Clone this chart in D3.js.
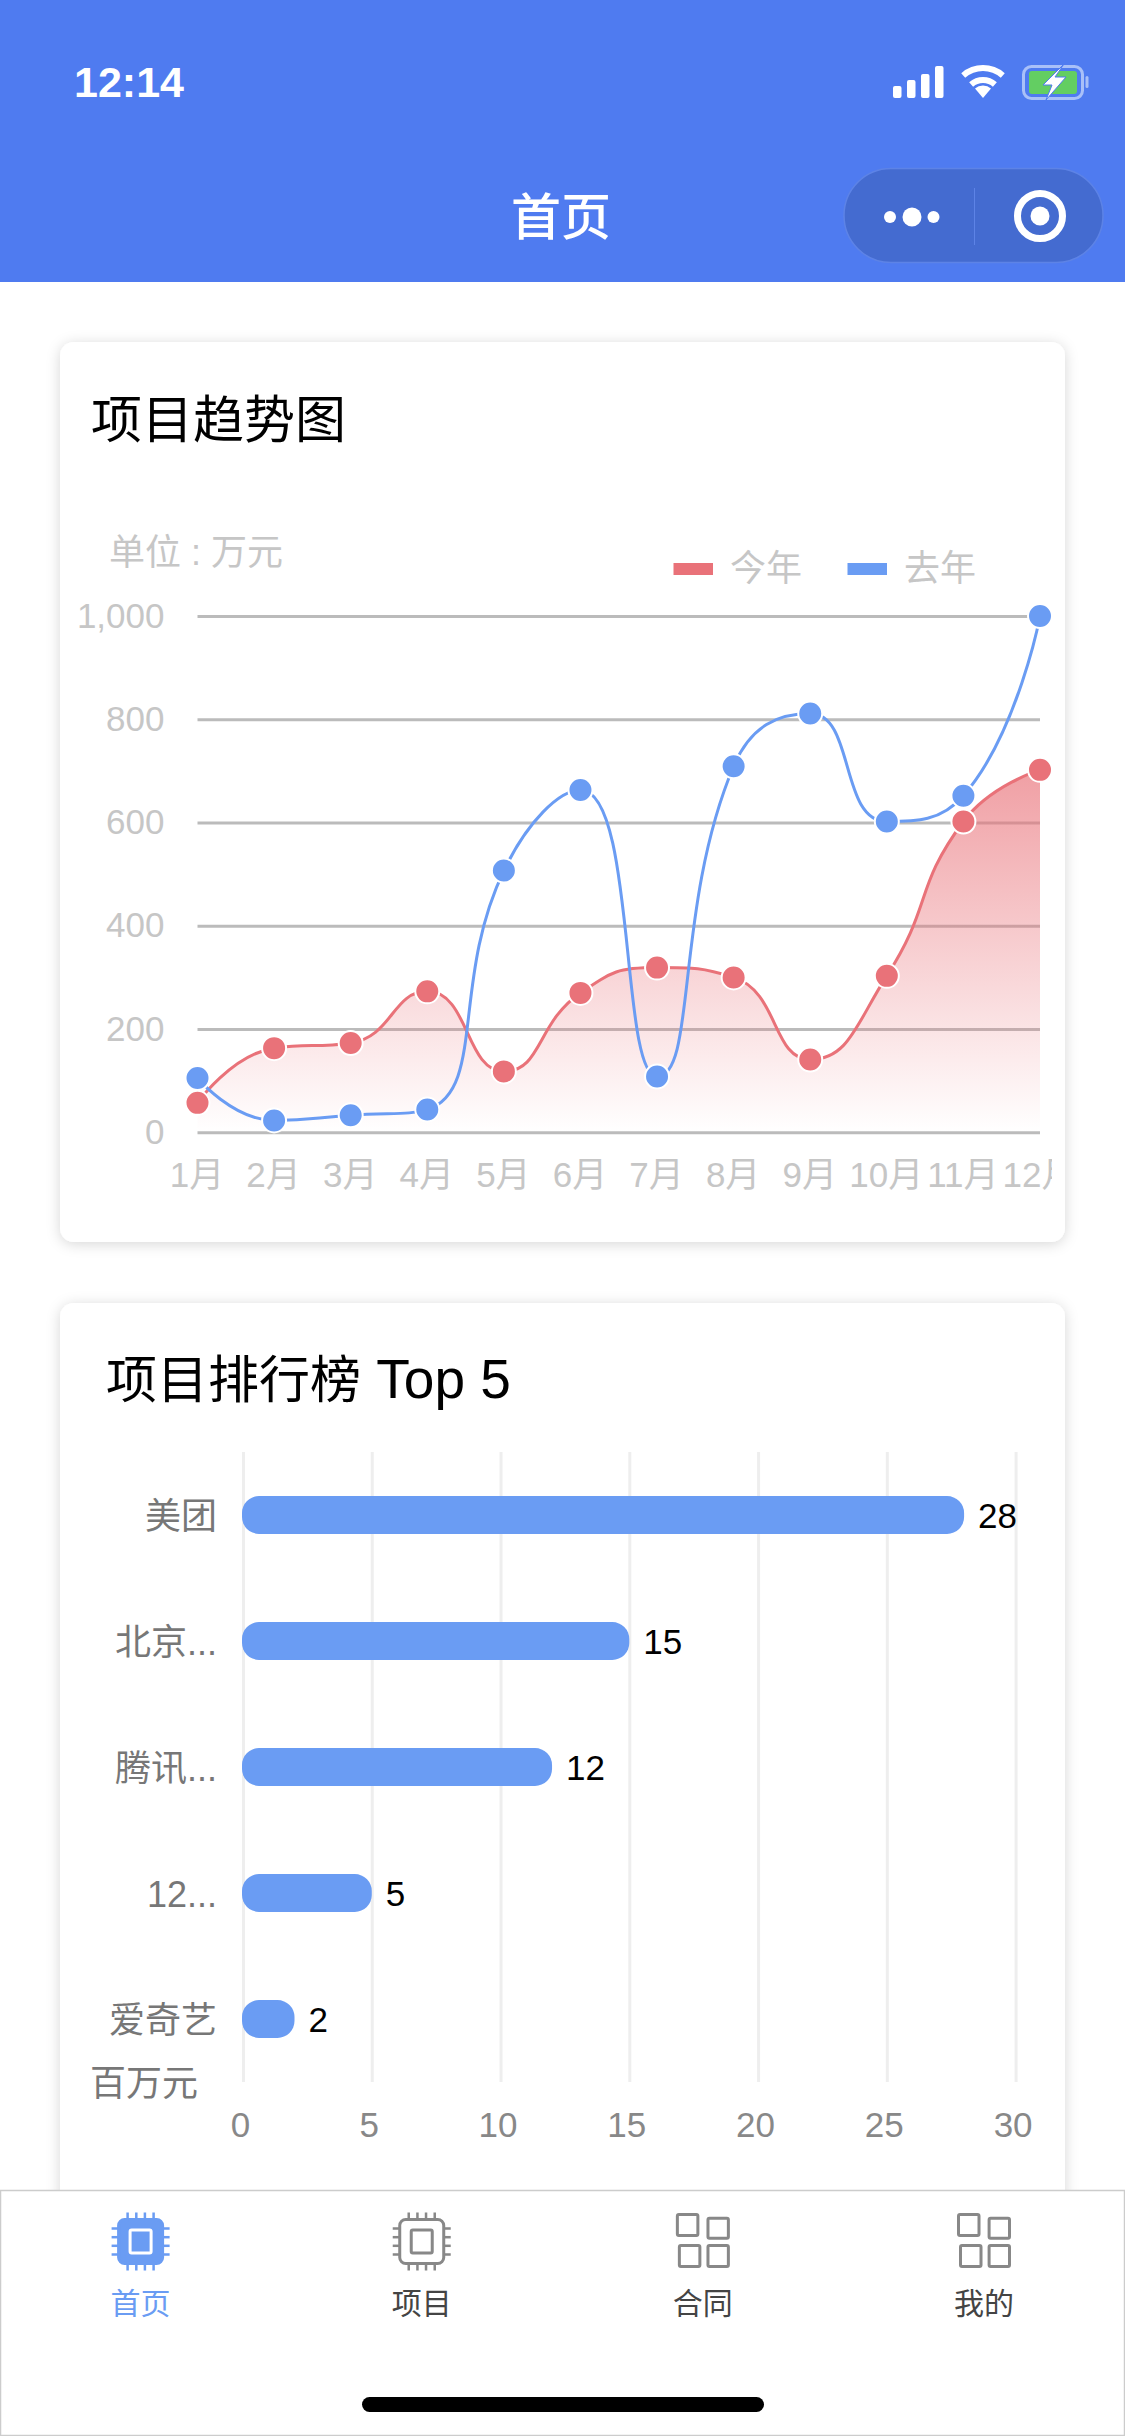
<!DOCTYPE html>
<html>
<head>
<meta charset="utf-8">
<script src="https://cdn.jsdelivr.net/npm/d3@7/dist/d3.min.js"></script>
<style>
  html, body { margin: 0; padding: 0; background: #fff; }
  svg { display: block; }
  text { font-family: "Liberation Sans", "Noto Sans CJK SC", sans-serif; }
</style>
</head>
<body>
<svg id="page" width="1125" height="2436"></svg>
<script>
// trend chart data
const months = ['1月', '2月', '3月', '4月', '5月', '6月', '7月', '8月', '9月', '10月', '11月', '12月'];
const thisYear = [57, 163, 173, 273, 118, 270, 319, 300, 141, 303, 602, 702];
const lastYear = [105, 23, 33, 44, 507, 663, 108, 709, 811, 602, 652, 1000];
const trendTicks = [0, 200, 400, 600, 800, 1000];

// ranking chart data
const companies = ['美团', '北京...', '腾讯...', '12...', '爱奇艺'];
const projects = [28, 15, 12, 5, 2];
const rankTicks = [0, 5, 10, 15, 20, 25, 30];

const tabs = ['首页', '项目', '合同', '我的'];

const BLUE = '#6a9cf3';
const RED = '#e97279';
const HEADER = '#4f7bf0';

const svg = d3.select('#page');
const defs = svg.append('defs');

const shadow = defs.append('filter').attr('id', 'cardShadow')
  .attr('x', '-5%').attr('y', '-5%').attr('width', '110%').attr('height', '110%');
shadow.append('feDropShadow').attr('dx', 0).attr('dy', 2).attr('stdDeviation', 7)
  .attr('flood-color', '#000').attr('flood-opacity', 0.16);

/**
 * Smooth curve with clamped control points, usable by d3.line and d3.area
 */
function clampedCurve(context) {
  let pts = [], line = NaN;
  const smooth = 0.5;
  const clamp = (v, a, b) => Math.max(Math.min(a, b), Math.min(Math.max(a, b), v));
  return {
    areaStart() { line = 0; },
    areaEnd() { line = NaN; },
    lineStart() { pts = []; },
    point(x, y) { pts.push([+x, +y]); },
    lineEnd() {
      const n = pts.length;
      if (line === 1) context.lineTo(pts[0][0], pts[0][1]);
      else context.moveTo(pts[0][0], pts[0][1]);
      const cps = pts.map((p, i) => {
        const prev = pts[i - 1], next = pts[i + 1];
        if (!prev || !next) return { a: p, b: p };
        const vx = next[0] - prev[0], vy = next[1] - prev[1];
        const lp = Math.hypot(p[0] - prev[0], p[1] - prev[1]);
        const ln = Math.hypot(next[0] - p[0], next[1] - p[1]);
        if (lp === 0 || ln === 0) return { a: p, b: p };
        const r = ln / (ln + lp);
        let bx = clamp(p[0] + vx * smooth * r, p[0], next[0]);
        let by = clamp(p[1] + vy * smooth * r, p[1], next[1]);
        let ax = clamp(p[0] - (bx - p[0]) * lp / ln, p[0], prev[0]);
        let ay = clamp(p[1] - (by - p[1]) * lp / ln, p[1], prev[1]);
        bx = p[0] - (ax - p[0]) * ln / lp;
        by = p[1] - (ay - p[1]) * ln / lp;
        return { a: [ax, ay], b: [bx, by] };
      });
      for (let i = 1; i < n; i++) {
        context.bezierCurveTo(cps[i - 1].b[0], cps[i - 1].b[1], cps[i].a[0], cps[i].a[1], pts[i][0], pts[i][1]);
      }
      if (line === 1) context.closePath();
      line = 1 - line;
    }
  };
}

/**
 * Cards
 */
function drawCards() {
  svg.append('rect').attr('x', 60).attr('y', 342).attr('width', 1005).attr('height', 900)
    .attr('rx', 14).attr('fill', '#fff').attr('filter', 'url(#cardShadow)');
  svg.append('rect').attr('x', 60).attr('y', 1303).attr('width', 1005).attr('height', 960)
    .attr('rx', 14).attr('fill', '#fff').attr('filter', 'url(#cardShadow)');

  svg.append('text').attr('x', 91).attr('y', 438).attr('font-size', 51).attr('fill', '#000').text('项目趋势图');
  const title = svg.append('text').attr('x', 106).attr('y', 1398).attr('font-size', 51).attr('fill', '#000');
  title.append('tspan').text('项目排行榜');
  title.append('tspan').attr('font-size', 55).text(' Top 5');
}

/**
 * Line chart, this year against last year
 */
function drawTrend() {
  const x = d3.scalePoint().domain(months).range([197.5, 1040]);
  const y = d3.scaleLinear().domain([0, 1000]).range([1132.3, 616]);

  const grad = defs.append('linearGradient').attr('id', 'redFill')
    .attr('gradientUnits', 'userSpaceOnUse')
    .attr('x1', 0).attr('x2', 0).attr('y1', y(d3.max(thisYear))).attr('y2', y(0));
  grad.append('stop').attr('offset', 0).attr('stop-color', RED).attr('stop-opacity', 0.68);
  grad.append('stop').attr('offset', 1).attr('stop-color', RED).attr('stop-opacity', 0);

  defs.append('clipPath').attr('id', 'trendClip').append('rect')
    .attr('x', 60).attr('y', 500).attr('width', 992).attr('height', 720);

  const g = svg.append('g').attr('clip-path', 'url(#trendClip)');

  const yAxis = g.append('g').attr('transform', `translate(${x(months[0])},0)`)
    .call(d3.axisLeft(y).tickValues(trendTicks).tickFormat(d3.format(','))
      .tickSize(-(x(months[11]) - x(months[0]))).tickPadding(33));
  yAxis.select('.domain').remove();
  yAxis.selectAll('line').attr('stroke', '#bbb').attr('stroke-width', 3);
  yAxis.selectAll('text').attr('font-size', 35).attr('fill', '#c6c6c6');

  const xAxis = g.append('g').attr('transform', `translate(0,${y(0)})`)
    .call(d3.axisBottom(x).tickSize(0).tickPadding(30));
  xAxis.select('.domain').remove();
  xAxis.selectAll('text').attr('font-size', 35).attr('fill', '#c6c6c6').attr('dx', -1);

  const area = d3.area().x((d, i) => x(months[i])).y0(y(0)).y1(d => y(d)).curve(clampedCurve);
  const line = d3.line().x((d, i) => x(months[i])).y(d => y(d)).curve(clampedCurve);

  g.append('path').datum(thisYear).attr('d', area).attr('fill', 'url(#redFill)');

  [[thisYear, RED], [lastYear, BLUE]].forEach(([values, color]) => {
    g.append('path').datum(values).attr('d', line)
      .attr('fill', 'none').attr('stroke', color).attr('stroke-width', 3);
    g.selectAll(null).data(values).enter().append('circle')
      .attr('cx', (d, i) => x(months[i])).attr('cy', d => y(d)).attr('r', 12)
      .attr('fill', color).attr('stroke', '#fff').attr('stroke-width', 2);
  });

  // legend and unit
  const labels = svg.append('g').attr('font-size', 36).attr('fill', '#c6c6c6');
  labels.append('text').attr('x', 109).attr('y', 565).text('单位 : 万元');
  labels.append('text').attr('x', 730).attr('y', 581).text('今年');
  labels.append('text').attr('x', 904).attr('y', 581).text('去年');
  svg.append('rect').attr('x', 673.5).attr('y', 563).attr('width', 39.5).attr('height', 12).attr('fill', RED);
  svg.append('rect').attr('x', 847.5).attr('y', 563).attr('width', 39.5).attr('height', 12).attr('fill', BLUE);
}

/**
 * Horizontal bars, top 5
 */
function drawRanking() {
  const x = d3.scaleLinear().domain([0, 30]).range([243, 1015.6]);
  const y = d3.scaleBand().domain(companies).range([1452, 2082]).paddingInner(0.7).paddingOuter(0.35);

  const xAxis = svg.append('g').attr('transform', `translate(0,${y.range()[1]})`)
    .call(d3.axisBottom(x).tickValues(rankTicks).tickSize(-630).tickPadding(30));
  xAxis.select('.domain').remove();
  xAxis.selectAll('line').attr('stroke', '#eee').attr('stroke-width', 3);
  xAxis.selectAll('text').attr('font-size', 35).attr('fill', '#888').attr('dx', -3);

  const yAxis = svg.append('g').attr('transform', `translate(${x(0)},0)`)
    .call(d3.axisLeft(y).tickSize(0).tickPadding(26));
  yAxis.select('.domain').remove();
  yAxis.selectAll('text').attr('font-size', 36).attr('fill', '#777').attr('dy', '0.38em');

  svg.selectAll('.bar').data(projects).enter().append('rect')
    .attr('class', 'bar')
    .attr('x', x(0) - 1)
    .attr('y', (d, i) => y(companies[i]))
    .attr('width', d => x(d) - x(0) + 1)
    .attr('height', y.bandwidth())
    .attr('rx', 17)
    .attr('fill', BLUE);

  svg.selectAll('.val').data(projects).enter().append('text')
    .attr('class', 'val')
    .attr('x', d => x(d) + 14)
    .attr('y', (d, i) => y(companies[i]) + y.bandwidth() / 2 + 12.5)
    .attr('font-size', 35).attr('fill', '#000')
    .text(d => d);

  svg.append('text').attr('x', 90).attr('y', 2096).attr('font-size', 36).attr('fill', '#777').text('百万元');
}

/**
 * Status bar and title bar
 */
function drawHeader() {
  svg.append('rect').attr('width', 1125).attr('height', 282).attr('fill', HEADER);

  svg.append('text').attr('x', 74).attr('y', 97).attr('font-size', 43).attr('font-weight', 700)
    .attr('fill', '#fff').text('12:14');
  svg.append('text').attr('x', 561).attr('y', 235).attr('font-size', 50).attr('font-weight', 500)
    .attr('text-anchor', 'middle').attr('fill', '#fff').text('首页');

  // signal
  [[893, 86], [907, 80], [921, 74], [935, 66]].forEach(([bx, by]) => {
    svg.append('rect').attr('x', bx).attr('y', by).attr('width', 8.5).attr('height', 98 - by)
      .attr('rx', 2).attr('fill', '#fff');
  });

  // wifi
  const wifi = svg.append('g').attr('transform', 'translate(983,98)');
  wifi.append('path').attr('d', 'M0 0L-8 -9.5A12 12 0 0 1 8 -9.5Z').attr('fill', '#fff');
  [21, 33].forEach(r => {
    const a = d3.arc().innerRadius(r - 6).outerRadius(r).startAngle(-0.72).endAngle(0.72);
    wifi.append('path').attr('d', a()).attr('fill', '#fff');
  });

  // battery
  svg.append('rect').attr('x', 1023.5).attr('y', 66.5).attr('width', 59).attr('height', 32).attr('rx', 8)
    .attr('fill', 'none').attr('stroke', '#a9c0f8').attr('stroke-width', 3);
  svg.append('rect').attr('x', 1029).attr('y', 71).attr('width', 48).attr('height', 23).attr('rx', 3).attr('fill', '#63ce62');
  svg.append('rect').attr('x', 1085.5).attr('y', 76).attr('width', 3).attr('height', 12).attr('rx', 1.5).attr('fill', '#a9c0f8');
  svg.append('path').attr('d', 'M1064 64L1043 85H1052L1046 100L1066 77H1055Z')
    .attr('fill', '#fff').attr('stroke', HEADER).attr('stroke-width', 1);

  // capsule
  svg.append('rect').attr('x', 844).attr('y', 168.5).attr('width', 259).attr('height', 94).attr('rx', 47)
    .attr('fill', '#446bd0').attr('stroke', '#5d83e6').attr('stroke-width', 1.5);
  svg.append('rect').attr('x', 974).attr('y', 188).attr('width', 1).attr('height', 57).attr('fill', '#5d83e6');
  svg.append('circle').attr('cx', 912).attr('cy', 217).attr('r', 9.5).attr('fill', '#fff');
  svg.append('circle').attr('cx', 890).attr('cy', 217).attr('r', 6).attr('fill', '#fff');
  svg.append('circle').attr('cx', 933.5).attr('cy', 217).attr('r', 6).attr('fill', '#fff');
  svg.append('circle').attr('cx', 1040).attr('cy', 216).attr('r', 22.5).attr('fill', 'none')
    .attr('stroke', '#fff').attr('stroke-width', 7);
  svg.append('circle').attr('cx', 1040).attr('cy', 216).attr('r', 9.5).attr('fill', '#fff');
}

function chipIcon(g, filled) {
  const color = filled ? BLUE : '#888';
  [-13, -4.3, 4.3, 13].forEach(d => {
    g.append('rect').attr('x', d - 1.25).attr('y', -29).attr('width', 2.5).attr('height', 58).attr('fill', color);
    g.append('rect').attr('x', -29).attr('y', d - 1.25).attr('width', 58).attr('height', 2.5).attr('fill', color);
  });
  g.append('rect').attr('x', -22).attr('y', -22).attr('width', 44).attr('height', 44).attr('rx', 6)
    .attr('fill', filled ? BLUE : '#fff').attr('stroke', color).attr('stroke-width', 3);
  g.append('rect').attr('x', -10.5).attr('y', -11.5).attr('width', 21).attr('height', 23).attr('rx', 1.5)
    .attr('fill', filled ? BLUE : 'none').attr('stroke', filled ? '#fff' : color).attr('stroke-width', 3);
}

function gridIcon(g) {
  [[-25.5, -27, 20.5, 21], [5.1, -23.3, 20.4, 20], [-23.5, 4, 20.5, 21], [5.1, 4, 20.4, 21]].forEach(([rx, ry, w, h]) => {
    g.append('rect').attr('x', rx).attr('y', ry).attr('width', w).attr('height', h).attr('rx', 1.5)
      .attr('fill', 'none').attr('stroke', '#888').attr('stroke-width', 3);
  });
}

/**
 * Tab bar
 */
function drawTabs() {
  svg.append('rect').attr('x', 0.5).attr('y', 2190.5).attr('width', 1124).attr('height', 245)
    .attr('fill', '#fff').attr('stroke', '#ccc').attr('stroke-width', 1.5);

  const x = d3.scalePoint().domain(tabs).range([140.6, 984]);
  tabs.forEach((name, i) => {
    const g = svg.append('g').attr('transform', `translate(${x(name)},2241.5)`);
    if (i < 2) chipIcon(g, i === 0);
    else gridIcon(g);
    svg.append('text').attr('x', x(name)).attr('y', 2314).attr('text-anchor', 'middle')
      .attr('font-size', 30).attr('fill', i === 0 ? BLUE : '#444').text(name);
  });

  svg.append('rect').attr('x', 362).attr('y', 2397).attr('width', 402).attr('height', 15)
    .attr('rx', 7.5).attr('fill', '#000');
}

/**
 * ANCHOR MAIN
 */
drawHeader();
drawCards();
drawTrend();
drawRanking();
drawTabs();
</script>
</body>
</html>
